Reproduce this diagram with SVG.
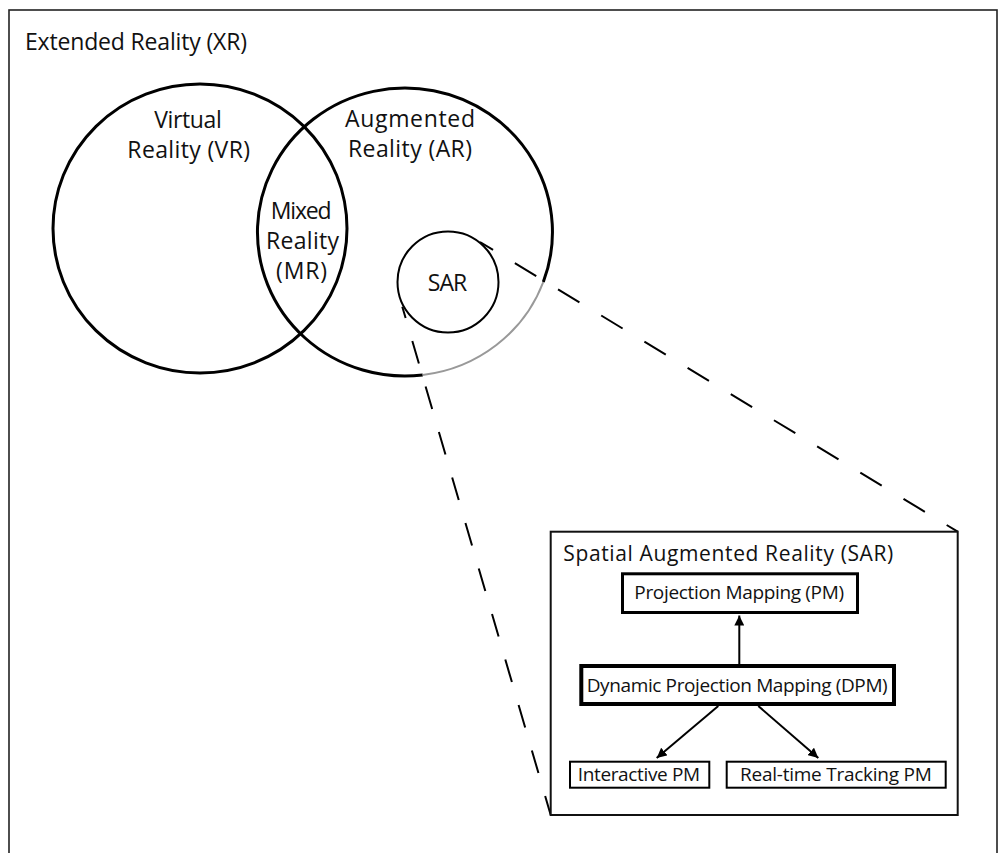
<svg xmlns="http://www.w3.org/2000/svg" width="1006" height="853" viewBox="0 0 1006 853">
  <defs>
    <style>
      .t { font-family: "Open Sans", "Noto Sans", "Liberation Sans", sans-serif; fill: #111; }
      .big { font-size: 23px; }
      .mid { font-size: 21px; }
      .sm { font-size: 19px; }
      .circ { fill: none; stroke: #000; stroke-width: 3; }
      .box { fill: #fff; stroke: #000; }
      .conn { stroke: #000; stroke-width: 2; fill: none; }
      .dash { stroke: #000; stroke-width: 2; fill: none; }
    </style>
    <marker id="ah" viewBox="0 0 10 10" markerWidth="10" markerHeight="10" refX="10" refY="5" orient="auto" markerUnits="userSpaceOnUse">
      <path d="M0,0 L10,5 L0,10 z" fill="#000"/>
    </marker>
  </defs>
  <rect width="1006" height="853" fill="#fff"/>

  <g id="xr">
    <rect x="9" y="10" width="988" height="900" fill="none" stroke="#222" stroke-width="1.6"/>
    <text class="t big" x="25" y="49.5" textLength="222">Extended Reality (XR)</text>
  </g>

  <g id="vr">
    <ellipse class="circ" cx="200" cy="228.5" rx="147" ry="144.5"/>
    <text class="t big" x="188" y="128.3" text-anchor="middle" textLength="67.4">Virtual</text>
    <text class="t big" x="188.7" y="158.3" text-anchor="middle" textLength="122.7">Reality (VR)</text>
  </g>

  <g id="ar">
    <path class="circ" d="M422.7,375 A147.5,144 0 1 1 543.3,282"/>
    <path d="M543.3,282 A147.5,144 0 0 1 422.7,375" fill="none" stroke="#999" stroke-width="2"/>
    <text class="t big" x="410" y="126.7" text-anchor="middle" textLength="130">Augmented</text>
    <text class="t big" x="410" y="156.7" text-anchor="middle" textLength="124">Reality (AR)</text>
  </g>

  <g id="mr">
    <text class="t big" x="301.2" y="219.3" text-anchor="middle" textLength="61">Mixed</text>
    <text class="t big" x="302.5" y="249.3" text-anchor="middle" textLength="73">Reality</text>
    <text class="t big" x="301.5" y="279.3" text-anchor="middle" textLength="51">(MR)</text>
  </g>

  <g id="sar-circle">
    <circle cx="448" cy="282" r="50.5" fill="none" stroke="#000" stroke-width="2"/>
    <text class="t big" x="447.5" y="291" text-anchor="middle" textLength="39.6">SAR</text>
  </g>

  <g id="zoom-lines">
    <path class="dash" d="M957.7,531.7 L480,242" stroke-dasharray="25 25.5" stroke-dashoffset="12.1"/>
    <path class="dash" d="M550.7,815 L402.3,306.7" stroke-dasharray="23.5 23.9" stroke-dashoffset="3.7"/>
  </g>

  <g id="sar-box">
    <rect x="550.7" y="531.7" width="407" height="283.3" fill="#fff" stroke="#111" stroke-width="2"/>
    <text class="t mid" x="563.3" y="560.7" textLength="330">Spatial Augmented Reality (SAR)</text>
  </g>

  <g id="pm">
    <rect class="box" x="622.5" y="573.8" width="235" height="38.7" stroke-width="3"/>
    <text class="t sm" x="739.2" y="599.3" text-anchor="middle" textLength="209.7">Projection Mapping (PM)</text>
  </g>

  <g id="dpm">
    <rect class="box" x="581.3" y="666" width="312.7" height="38" stroke-width="4"/>
    <text class="t sm" x="737.2" y="691.7" text-anchor="middle" textLength="301">Dynamic Projection Mapping (DPM)</text>
  </g>

  <g id="ipm">
    <rect class="box" x="570" y="761.7" width="139.3" height="26" stroke-width="2"/>
    <text class="t sm" x="638.9" y="781" text-anchor="middle" textLength="122.3">Interactive PM</text>
  </g>

  <g id="rtpm">
    <rect class="box" x="726.7" y="761.7" width="219" height="26" stroke-width="2"/>
    <text class="t sm" x="835.9" y="781" text-anchor="middle" textLength="191.7">Real-time Tracking PM</text>
  </g>

  <g id="connectors">
    <line class="conn" x1="739.3" y1="664" x2="739.3" y2="615.5" marker-end="url(#ah)"/>
    <line class="conn" x1="718.3" y1="706" x2="656.7" y2="758" marker-end="url(#ah)"/>
    <line class="conn" x1="758.3" y1="706" x2="818.3" y2="758" marker-end="url(#ah)"/>
  </g>
</svg>
